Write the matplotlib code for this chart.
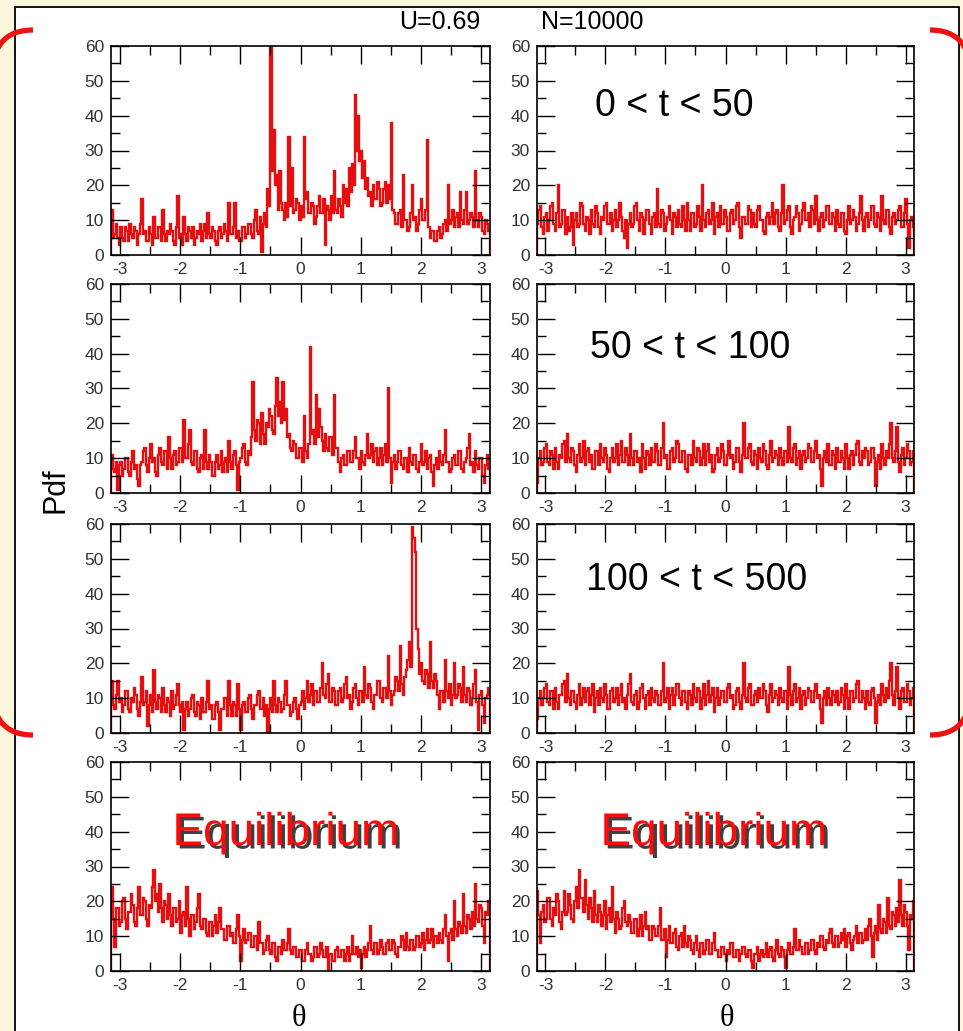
import numpy as np
import matplotlib.pyplot as plt
from matplotlib import patheffects
from matplotlib.path import Path
from matplotlib.patches import PathPatch, Rectangle
from matplotlib.ticker import MultipleLocator

plt.rcParams["font.family"] = ["Liberation Sans", "DejaVu Sans"]
plt.rcParams["axes.unicode_minus"] = False

W, H = 963, 1031

# Pdf per theta bin, 252 bins spread evenly over [-pi, pi]
left_0_50 = [
    13, 5, 6, 9, 5, 3, 8, 5, 4, 8, 7, 4, 9, 6, 5, 8, 7, 3, 6, 9,
    16, 6, 7, 4, 4, 8, 6, 3, 11, 5, 5, 8, 8, 4, 13, 6, 4, 7, 6, 9,
    7, 4, 3, 8, 17, 5, 6, 3, 11, 6, 4, 8, 7, 5, 8, 3, 5, 7, 6, 9,
    4, 7, 9, 5, 12, 6, 5, 8, 7, 4, 3, 7, 8, 5, 6, 9, 7, 4, 15, 6,
    6, 8, 15, 5, 7, 4, 4, 8, 8, 5, 6, 9, 9, 6, 5, 10, 13, 7, 6, 11,
    1, 9, 12, 8, 19, 14, 62, 24, 36, 20, 23, 13, 24, 15, 13, 10, 15, 11, 34, 14,
    25, 12, 13, 16, 15, 10, 14, 11, 34, 16, 18, 12, 12, 15, 14, 9, 11, 14, 17, 12,
    12, 16, 3, 14, 13, 10, 17, 12, 24, 13, 12, 16, 14, 11, 20, 15, 19, 14, 25, 18,
    26, 20, 46, 30, 40, 27, 30, 22, 27, 19, 22, 17, 18, 14, 20, 16, 16, 21, 19, 14,
    15, 19, 21, 15, 20, 16, 38, 13, 12, 9, 9, 12, 13, 8, 23, 10, 10, 7, 8, 12,
    20, 10, 11, 7, 9, 13, 16, 10, 10, 13, 33, 8, 5, 7, 7, 4, 4, 7, 8, 5,
    6, 9, 10, 7, 20, 9, 10, 13, 8, 11, 12, 8, 18, 10, 9, 13, 18, 9, 10, 12,
    11, 8, 24, 10, 8, 12, 11, 7, 6, 10, 9, 7,
]
right_0_50 = [
    9, 13, 14, 8, 6, 11, 12, 7, 10, 14, 15, 9, 7, 12, 20, 8, 9, 13, 13, 6,
    11, 7, 8, 12, 3, 10, 12, 8, 9, 15, 14, 9, 7, 11, 10, 6, 13, 9, 8, 14,
    12, 8, 6, 11, 10, 14, 15, 9, 9, 12, 7, 10, 13, 8, 10, 15, 11, 7, 5, 10,
    2, 9, 12, 8, 9, 14, 15, 10, 7, 12, 11, 6, 10, 13, 13, 9, 6, 11, 12, 8,
    19, 9, 8, 13, 12, 7, 9, 11, 14, 10, 6, 12, 11, 8, 13, 9, 8, 14, 10, 7,
    15, 10, 7, 12, 12, 8, 9, 14, 11, 7, 20, 10, 8, 12, 13, 9, 10, 15, 6, 11,
    12, 8, 14, 9, 9, 13, 11, 7, 7, 12, 13, 9, 10, 14, 15, 8, 5, 11, 11, 9,
    9, 14, 13, 8, 12, 9, 8, 13, 14, 10, 10, 7, 6, 11, 12, 9, 11, 15, 9, 12,
    13, 8, 7, 12, 20, 9, 10, 13, 14, 8, 6, 10, 11, 14, 12, 7, 9, 13, 15, 10,
    10, 12, 8, 14, 13, 9, 17, 10, 7, 11, 12, 8, 10, 14, 14, 9, 9, 12, 11, 7,
    13, 9, 8, 12, 12, 7, 6, 10, 14, 9, 10, 13, 11, 7, 9, 12, 17, 10, 7, 11,
    12, 8, 10, 14, 14, 9, 8, 12, 11, 7, 17, 10, 9, 13, 13, 8, 6, 11, 12, 9,
    10, 13, 14, 8, 8, 12, 16, 9, 2, 10, 11, 8,
]
left_50_100 = [
    11, 7, 6, 9, 1, 8, 9, 5, 7, 10, 10, 6, 5, 9, 12, 7, 8, 4, 2, 8,
    9, 12, 13, 8, 6, 10, 14, 9, 10, 6, 5, 11, 13, 9, 8, 12, 12, 7, 16, 10,
    7, 11, 12, 8, 9, 13, 13, 9, 21, 10, 10, 14, 18, 9, 8, 12, 12, 7, 6, 10,
    11, 7, 18, 9, 7, 11, 9, 5, 5, 9, 11, 7, 8, 12, 6, 9, 10, 6, 15, 9,
    7, 11, 12, 8, 1, 9, 10, 13, 14, 9, 8, 12, 11, 16, 32, 18, 15, 21, 20, 14,
    23, 17, 14, 20, 19, 24, 22, 18, 17, 25, 33, 22, 26, 20, 32, 21, 24, 16, 17, 13,
    12, 15, 14, 10, 10, 13, 13, 9, 22, 12, 10, 14, 42, 17, 18, 14, 28, 16, 24, 19,
    15, 12, 17, 13, 12, 16, 16, 11, 28, 13, 13, 9, 6, 10, 11, 8, 8, 12, 12, 9,
    9, 12, 16, 10, 10, 7, 12, 9, 8, 11, 17, 10, 11, 14, 9, 12, 13, 8, 10, 13,
    8, 11, 14, 9, 30, 10, 3, 9, 11, 7, 9, 12, 12, 8, 7, 10, 10, 6, 13, 9,
    8, 11, 11, 7, 6, 9, 14, 8, 9, 12, 7, 10, 11, 6, 2, 8, 10, 7, 12, 9,
    8, 11, 18, 9, 9, 6, 7, 10, 11, 8, 8, 12, 12, 7, 6, 9, 10, 13, 17, 8,
    9, 6, 12, 8, 7, 10, 10, 5, 3, 8, 11, 7,
]
right_50_100 = [
    3, 10, 12, 8, 9, 13, 14, 9, 8, 12, 11, 7, 13, 9, 7, 11, 10, 14, 15, 9,
    17, 10, 9, 13, 12, 8, 6, 11, 14, 9, 10, 15, 8, 12, 13, 9, 11, 7, 7, 12,
    12, 8, 14, 10, 9, 13, 11, 7, 6, 10, 13, 9, 10, 14, 8, 11, 15, 9, 9, 13,
    11, 8, 17, 10, 8, 12, 12, 9, 10, 6, 14, 10, 7, 12, 11, 8, 13, 9, 9, 14,
    12, 8, 8, 13, 20, 10, 11, 7, 7, 12, 13, 9, 10, 15, 14, 9, 9, 12, 12, 7,
    6, 11, 11, 8, 15, 10, 9, 13, 12, 8, 10, 14, 8, 12, 14, 9, 11, 6, 7, 11,
    13, 9, 10, 14, 12, 8, 8, 11, 15, 10, 11, 7, 9, 13, 13, 9, 6, 11, 20, 10,
    10, 13, 14, 9, 8, 12, 11, 7, 13, 10, 9, 14, 12, 8, 7, 11, 15, 9, 10, 12,
    11, 8, 13, 10, 8, 12, 12, 9, 19, 10, 9, 13, 14, 8, 10, 12, 7, 11, 12, 9,
    10, 14, 13, 9, 9, 12, 15, 10, 11, 7, 2, 10, 12, 9, 14, 8, 8, 12, 11, 7,
    13, 9, 9, 12, 10, 7, 14, 10, 7, 11, 12, 8, 11, 14, 15, 9, 8, 12, 10, 13,
    12, 8, 9, 13, 13, 10, 2, 9, 11, 7, 14, 10, 8, 12, 10, 14, 20, 10, 9, 12,
    19, 9, 6, 11, 13, 8, 10, 14, 12, 8, 9, 12,
]
left_100_500 = [
    15, 8, 7, 11, 15, 9, 10, 6, 8, 12, 12, 7, 6, 10, 9, 13, 11, 7, 5, 9,
    16, 8, 9, 12, 2, 8, 11, 6, 18, 9, 7, 11, 10, 6, 13, 8, 6, 10, 9, 5,
    12, 7, 8, 11, 14, 8, 6, 9, 1, 7, 9, 5, 7, 10, 11, 6, 5, 9, 8, 4,
    10, 6, 6, 9, 15, 7, 8, 4, 4, 8, 9, 6, 1, 7, 7, 10, 10, 5, 15, 8,
    5, 9, 8, 5, 14, 7, 1, 8, 9, 6, 6, 10, 11, 7, 4, 8, 8, 11, 12, 7,
    7, 10, 5, 8, 0, 7, 10, 6, 15, 8, 6, 10, 9, 6, 7, 11, 15, 8, 8, 5,
    6, 9, 10, 7, 4, 8, 9, 12, 7, 10, 15, 9, 11, 14, 8, 12, 12, 9, 9, 13,
    20, 11, 10, 14, 17, 9, 9, 13, 12, 8, 8, 12, 13, 9, 10, 14, 16, 10, 11, 7,
    9, 13, 14, 10, 8, 12, 12, 9, 19, 11, 10, 14, 13, 9, 7, 11, 11, 15, 15, 10,
    9, 13, 13, 10, 22, 12, 8, 11, 12, 16, 15, 12, 25, 14, 11, 16, 18, 21, 26, 19,
    59, 56, 52, 30, 24, 17, 20, 15, 14, 18, 17, 13, 26, 15, 13, 17, 15, 11, 7, 12,
    12, 9, 21, 12, 10, 14, 8, 11, 20, 10, 11, 14, 13, 9, 19, 11, 9, 13, 12, 8,
    10, 14, 18, 9, 1, 11, 12, 8, 3, 10, 11, 13,
]
right_100_500 = [
    4, 10, 12, 8, 10, 13, 14, 9, 8, 12, 12, 7, 13, 9, 7, 11, 11, 14, 15, 9,
    17, 10, 8, 12, 12, 9, 7, 11, 14, 8, 10, 13, 9, 12, 13, 8, 11, 14, 6, 10,
    12, 8, 13, 10, 9, 14, 11, 7, 7, 12, 13, 9, 10, 13, 8, 11, 14, 9, 10, 7,
    11, 14, 17, 9, 8, 11, 12, 7, 9, 13, 14, 10, 7, 11, 12, 8, 13, 10, 9, 12,
    11, 8, 8, 12, 20, 9, 10, 13, 7, 11, 13, 8, 11, 14, 14, 10, 8, 12, 12, 9,
    7, 12, 11, 8, 14, 10, 9, 13, 12, 7, 10, 14, 8, 11, 15, 9, 11, 13, 6, 10,
    13, 8, 10, 12, 12, 9, 9, 13, 14, 10, 11, 7, 8, 12, 13, 9, 7, 11, 20, 10,
    9, 13, 14, 8, 8, 11, 12, 9, 13, 10, 10, 14, 12, 8, 6, 11, 14, 9, 10, 12,
    11, 8, 13, 10, 9, 12, 12, 7, 19, 11, 8, 12, 14, 9, 10, 13, 7, 11, 12, 8,
    10, 13, 12, 9, 9, 12, 14, 10, 11, 7, 3, 10, 12, 8, 13, 10, 8, 12, 11, 9,
    12, 8, 9, 13, 11, 7, 14, 10, 7, 12, 12, 9, 10, 14, 15, 9, 9, 12, 10, 7,
    12, 9, 8, 12, 13, 10, 3, 9, 11, 8, 14, 11, 9, 13, 10, 15, 20, 11, 8, 12,
    19, 10, 7, 12, 13, 9, 9, 14, 12, 8, 10, 13,
]
left_eq = [
    24, 15, 7, 18, 18, 13, 14, 20, 21, 15, 12, 17, 17, 22, 19, 14, 13, 18, 24, 16,
    16, 21, 20, 15, 13, 19, 18, 24, 29, 20, 22, 17, 25, 18, 14, 20, 19, 15, 22, 16,
    13, 18, 18, 14, 15, 20, 11, 16, 17, 13, 24, 15, 10, 16, 16, 12, 14, 18, 22, 13,
    12, 15, 15, 11, 10, 14, 14, 10, 13, 16, 11, 14, 18, 12, 12, 9, 9, 13, 13, 10,
    11, 8, 8, 12, 16, 10, 3, 9, 12, 8, 9, 11, 11, 7, 7, 10, 10, 6, 14, 8,
    8, 5, 6, 9, 10, 6, 5, 8, 8, 4, 3, 7, 7, 5, 9, 6, 6, 8, 12, 6,
    5, 7, 7, 4, 4, 6, 6, 3, 3, 6, 8, 5, 5, 3, 4, 7, 7, 4, 5, 8,
    6, 4, 4, 7, 0, 5, 5, 3, 3, 6, 7, 4, 4, 6, 6, 3, 5, 7, 3, 5,
    10, 5, 5, 7, 4, 6, 1, 5, 7, 4, 6, 8, 13, 6, 5, 8, 8, 5, 6, 9,
    7, 5, 5, 8, 9, 6, 6, 9, 8, 5, 4, 7, 7, 10, 9, 6, 11, 7, 6, 9,
    9, 6, 7, 10, 10, 7, 8, 11, 6, 9, 12, 8, 9, 12, 7, 10, 10, 8, 11, 9,
    8, 12, 16, 10, 3, 11, 12, 9, 20, 12, 10, 14, 13, 11, 22, 13, 11, 16, 15, 12,
    17, 13, 25, 15, 14, 19, 18, 13, 8, 17, 16, 20,
]
right_eq = [
    23, 16, 8, 17, 19, 14, 15, 21, 21, 15, 13, 18, 16, 22, 20, 14, 12, 17, 23, 16,
    17, 22, 19, 15, 14, 20, 24, 18, 29, 21, 21, 17, 26, 19, 15, 21, 18, 14, 23, 16,
    14, 19, 17, 13, 16, 20, 12, 16, 18, 14, 24, 15, 11, 17, 15, 12, 13, 18, 20, 14,
    13, 16, 14, 11, 11, 15, 15, 10, 12, 16, 10, 13, 17, 12, 13, 9, 9, 13, 12, 10,
    10, 13, 18, 9, 9, 12, 4, 9, 13, 8, 8, 11, 12, 7, 6, 10, 11, 7, 13, 8,
    7, 10, 9, 6, 5, 8, 10, 6, 4, 8, 8, 5, 6, 9, 9, 5, 5, 8, 11, 6,
    6, 4, 4, 7, 7, 5, 3, 6, 5, 8, 8, 4, 4, 6, 6, 3, 5, 7, 7, 5,
    4, 6, 6, 3, 1, 5, 5, 7, 3, 5, 6, 4, 5, 8, 4, 6, 7, 4, 3, 6,
    9, 5, 4, 7, 6, 4, 1, 6, 8, 5, 5, 7, 12, 6, 6, 9, 7, 5, 5, 8,
    8, 5, 6, 9, 9, 6, 5, 8, 7, 10, 10, 7, 6, 9, 8, 11, 12, 8, 7, 10,
    10, 7, 8, 11, 9, 12, 7, 10, 11, 8, 6, 9, 10, 13, 8, 11, 11, 8, 9, 12,
    9, 13, 15, 10, 4, 11, 13, 9, 19, 12, 11, 15, 14, 11, 21, 13, 12, 17, 16, 13,
    18, 14, 26, 16, 13, 19, 17, 13, 6, 16, 15, 20,
]

rows = [
    (left_0_50, right_0_50, "0 < t < 50"),
    (left_50_100, right_50_100, "50 < t < 100"),
    (left_100_500, right_100_500, "100 < t < 500"),
    (left_eq, right_eq, "Equilibrium"),
]
x_ticks = [-3, -2, -1, 0, 1, 2, 3]
y_ticks = [0, 10, 20, 30, 40, 50, 60]


def fx(px):
    return px / W


def fy(py):
    return 1 - py / H


fig = plt.figure(figsize=(W / 100, H / 100), dpi=100)
fig.patch.set_facecolor("#fdf6df")

# slide frame and the red bracket corners
bg = fig.add_axes([0, 0, 1, 1], zorder=-5)
bg.set_xlim(0, W)
bg.set_ylim(H, 0)
bg.axis("off")
bg.add_patch(Rectangle((15, 7), 944, 1040, facecolor="white", edgecolor="black", lw=1.3))
curve = [Path.MOVETO, Path.CURVE3, Path.CURVE3]
for arc in ([(33, 30), (6, 30), (-3, 50)], [(33, 735), (6, 735), (-3, 715)]):
    for mirror in (False, True):
        pts = [(W - x, y) for x, y in arc] if mirror else arc
        bg.add_patch(PathPatch(Path(pts, curve), facecolor="none", edgecolor="#ee1111",
                               lw=3.8, capstyle="butt", clip_on=False))

lefts = [111, 537]
widths = [379, 377]
tops = [46, 284, 524, 762]
height = 209
label_pos = [(674, 106), (690, 348), (697, 580)]
eq_pos = [(286, 833), (714, 833)]

for r, (lvals, rvals, label) in enumerate(rows):
    for c, vals in enumerate((lvals, rvals)):
        ax = fig.add_axes([fx(lefts[c]), fy(tops[r] + height), widths[c] / W, height / H])
        edges = np.linspace(-np.pi, np.pi, len(vals) + 1)
        ax.stairs(vals, edges, color="#f00c0c", lw=1.7)
        ax.stairs(vals, edges, color="#b01c1c", lw=0.4, alpha=0.5)
        ax.set_xlim(-np.pi, np.pi)
        ax.set_ylim(0, 60)
        ax.set_xticks(x_ticks)
        ax.set_yticks(y_ticks)
        ax.xaxis.set_minor_locator(MultipleLocator(0.5))
        ax.yaxis.set_minor_locator(MultipleLocator(5))
        ax.tick_params(which="both", direction="in", top=True, right=True,
                       labelsize=12.5, labelcolor="#333333", width=1.0)
        ax.tick_params(which="major", length=13, pad=5)
        ax.tick_params(which="minor", length=6.5)
        for s in ax.spines.values():
            s.set_linewidth(1.2)

        if r < 3 and c == 1:
            x, y = label_pos[r]
            fig.text(fx(x), fy(y), label, fontsize=27, ha="center", va="center")
        if r == 3:
            x, y = eq_pos[c]
            fig.text(fx(x), fy(y), label, fontsize=33, color="#ff0a0a", ha="center",
                     va="center",
                     path_effects=[patheffects.withSimplePatchShadow(
                         offset=(2.5, -2.5), shadow_rgbFace="#101010", alpha=0.8)])

fig.text(fx(440), fy(29), "U=0.69", fontsize=18, ha="center", va="baseline")
fig.text(fx(592), fy(29), "N=10000", fontsize=18, ha="center", va="baseline")
fig.text(fx(55), fy(490), "Pdf", fontsize=22, rotation=90, ha="center", va="center")
for x in (299, 727):
    fig.text(fx(x), fy(1018), "θ", fontsize=22, ha="center", va="center",
             family=["Liberation Serif", "DejaVu Serif"])

fig.savefig("out.png", dpi=100, facecolor=fig.get_facecolor())
